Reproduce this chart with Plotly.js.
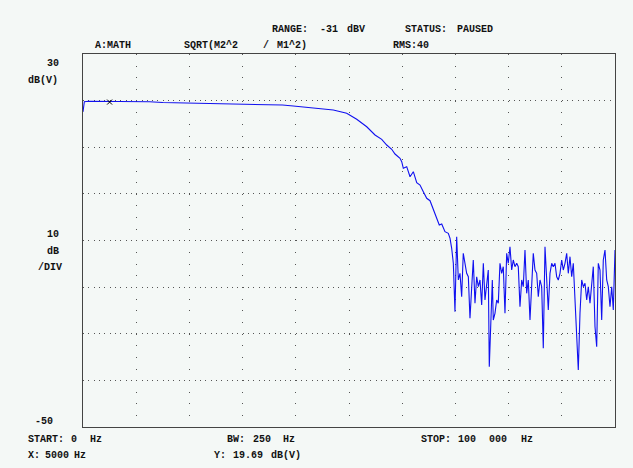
<!DOCTYPE html>
<html>
<head>
<meta charset="utf-8">
<script src="https://cdn.plot.ly/plotly-3.0.1.min.js"></script>
<style>
  html, body { margin: 0; padding: 0; background: #f4f8f6; }
  #chart { width: 633px; height: 468px; }
</style>
</head>
<body>
<div id="chart"></div>
<script>
// ---- data ----
var freqHz = [0,250,1000,2500,5000,7500,10000,12500,15000,17500,20000,22500,25000,27500,30000,32500,35000,37500,39530,42000,44550,47050,49570,51450,53330,54890,56150,57090,58030,58650,59590,59910,60210,60850,61470,62090,62730,63350,63970,64610,65230,65730,66170,66600,66970,67430,68040,68670,68990,69300,69610,69920,70240,70550,70860,71180,71480,71800,72120,72430,72740,73070,73360,73680,74000,74310,74620,74940,75250,75560,75880,76180,76370,76630,76940,77120,77440,77760,78060,78380,78700,79000,79320,79640,79940,80260,80580,80880,81200,81520,81820,82140,82460,82760,83080,83400,83700,84020,84340,84640,84960,85280,85580,85900,86220,86520,86840,87160,87460,87780,88100,88400,88720,89040,89340,89660,89980,90280,90600,90920,91220,91540,91860,92160,92480,92800,93100,93420,93740,94040,94360,94680,94980,95300,95620,95920,96240,96560,96860,97180,97500,97800,98120,98440,98740,99060,99380,99680,100000];
var magDb = [17.6,19.75,19.85,19.85,19.7,19.8,19.8,19.75,19.6,19.55,19.5,19.45,19.45,19.35,19.3,19.3,19.2,19.05,18.85,18.6,18.35,17.99,17.28,16.0,14.4,12.63,11.7,10.48,9.56,8.55,7.63,6.9,5.48,5.83,3.68,4.76,2.4,1.9,0.47,-0.95,-1.46,-3.09,-4.04,-5.45,-6.68,-6.46,-8.11,-8.46,-9.53,-11.67,-14.89,-25.27,-9.19,-18.47,-17.04,-22.05,-12.75,-14.89,-17.04,-17.77,-26.69,-19.91,-14.18,-23.47,-17.77,-19.91,-18.47,-23.83,-14.89,-22.76,-19.91,-16.33,-37.07,-28.49,-18.47,-27.05,-25.61,-22.76,-23.47,-14.89,-17.04,-15.61,-25.61,-12.75,-14.89,-11.33,-16.33,-14.18,-15.61,-14.89,-15.61,-24.2,-18.47,-19.91,-12.04,-21.33,-18.47,-27.05,-18.47,-12.75,-16.33,-17.04,-22.05,-18.47,-19.91,-33.13,-11.33,-17.77,-24.91,-17.04,-14.89,-15.61,-14.89,-17.77,-18.47,-17.04,-14.18,-16.33,-14.89,-12.75,-17.04,-13.47,-17.77,-14.89,-22.05,-30.64,-37.78,-25.61,-18.47,-19.91,-19.18,-22.76,-19.91,-23.47,-19.91,-15.61,-28.49,-32.78,-14.89,-16.33,-27.05,-14.18,-12.04,-18.47,-19.91,-24.2,-19.91,-24.91,-12.04];
var cursorX = [5000];
var cursorY = [19.69];

var topRow1 = ["RANGE:", "-31", "dBV", "STATUS:", "PAUSED"];
var topRow2 = ["A:MATH", "SQRT(M2^2", "/", "M1^2)", "RMS:40"];
var leftLabels = ["30", "dB(V)", "10", "dB", "/DIV", "-50"];
var bottomRow1 = ["START:", "0", "Hz", "BW:", "250", "Hz", "STOP:", "100", "000", "Hz"];
var bottomRow2 = ["X:", "5000", "Hz", "Y:", "19.69", "dB(V)"];

// ---- layout positions (pixels) ----
var L = 83, R = 615, T = 54, B = 427;
var posTop1 = [[272,30],[320,30],[347,30],[405,30],[457,30]];
var posTop2 = [[95,46],[184,46],[263,46],[277,46],[393,46]];
var posLeft = [[47,63],[28,80],[47,234],[47,251],[38,267],[35,421]];
var posBot1 = [[28,439],[71,439],[90,439],[227,439],[253,439],[283,439],[421,439],[458,439],[489,439],[521,439]];
var posBot2 = [[28,455],[45,455],[74,455],[214,455],[233,455],[271,455]];

var font = {family: "Liberation Mono, DejaVu Sans Mono, monospace", size: 10, color: "#111111", weight: 700};
function ann(t, p) {
  return {text: t, xref: "paper", yref: "paper",
          x: (p[0] - L) / (R - L), y: (B - p[1]) / (B - T),
          xanchor: "left", yanchor: "middle", showarrow: false,
          borderpad: 0, borderwidth: 0, font: font};
}
var anns = [];
function addRow(texts, pos) { for (var i = 0; i < texts.length; i++) anns.push(ann(texts[i], pos[i])); }
addRow(topRow1, posTop1); addRow(topRow2, posTop2); addRow(leftLabels, posLeft);
addRow(bottomRow1, posBot1); addRow(bottomRow2, posBot2);

var traces = [
  {x: freqHz, y: magDb, type: "scatter", mode: "lines",
   line: {color: "#1010f0", width: 1.1}, hoverinfo: "skip"},
  {x: cursorX, y: cursorY, type: "scatter", mode: "markers",
   marker: {symbol: "x-thin-open", size: 5, color: "#000", line: {color: "#000", width: 1}}, hoverinfo: "skip"}
];

var layout = {
  width: 633, height: 468,
  margin: {l: L, r: 633 - R, t: T, b: 468 - B, pad: 0},
  paper_bgcolor: "#f4f8f6", plot_bgcolor: "#f4f8f6",
  showlegend: false,
  xaxis: {range: [0, 100000], dtick: 10000, tick0: 0, showticklabels: false, ticks: "",
          showgrid: true, gridcolor: "#555", gridwidth: 1, griddash: "1px,10.65px",
          zeroline: false, showline: true, mirror: true, linecolor: "#444", linewidth: 1, fixedrange: true},
  yaxis: {range: [-50, 30], dtick: 10, tick0: -50, showticklabels: false, ticks: "",
          showgrid: true, gridcolor: "#555", gridwidth: 1, griddash: "1px,4.32px",
          zeroline: false, showline: true, mirror: true, linecolor: "#444", linewidth: 1, fixedrange: true},
  annotations: anns
};

Plotly.newPlot("chart", traces, layout, {staticPlot: true, displayModeBar: false});
</script>
</body>
</html>
